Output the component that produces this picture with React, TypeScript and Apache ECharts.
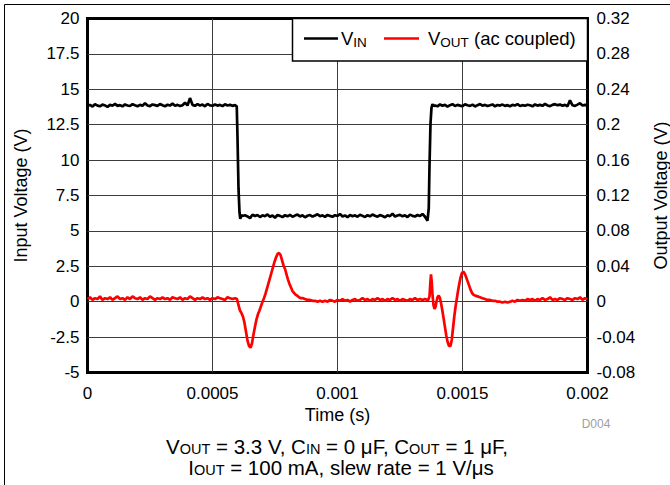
import React, { useEffect, useRef } from "react";
import * as echarts from "echarts";

// ---------- DATA (time in microseconds, voltages in volts) ----------
const vinHigh1T = [0,10,20,30,40,50,60,70,80,90,100,110,120,130,140,150,160,170,180,190,200,210,220,230,240,250,260,270,280,290,300,310,320,330,340,350,360,370,380,390,400,410,420,430,440,450,460,470,480,490,500,510,520,530,540,550,560,570,580,590];
const vinHigh1V = [13.82,13.9,13.78,13.95,13.85,13.8,13.92,13.86,13.76,13.9,
  13.84,13.97,13.83,13.88,13.8,13.93,13.86,13.82,13.95,13.87,
  13.8,13.9,13.84,14.02,13.86,13.81,13.93,13.88,13.83,13.96,
  13.87,13.8,13.91,13.85,13.99,13.84,13.9,13.82,13.88,14.05,
  13.86,14.38,13.9,13.83,13.95,13.86,13.92,13.8,13.97,13.87,
  13.84,13.93,13.85,13.9,13.81,13.94,13.86,13.9,13.83,13.88];
const vinFallT = [597,600,604,608,611,615,620];
const vinFallV = [13.8,11.6,8.0,6.3,5.85,6.12,6.05];
const vinLowT = [630,640,650,660,670,680,690,700,710,720,730,740,750,760,770,780,790,800,810,820,830,840,850,860,870,880,890,900,910,920,930,940,950,960,970,980,990,1000,1010,1020,1030,1040,1050,1060,1070,1080,1090,1100,1110,1120,1130,1140,1150,1160,1170,1180,1190,1200,1210,1220,1230,1240,1250,1260,1270,1280,1290,1300,1310,1320,1330,1340,1350,1360];
const vinLowV = [6.1,6.02,5.9,6.14,6.05,6.12,5.98,6.1,6.04,6.16,
  6.0,6.09,5.93,6.12,6.06,5.97,6.11,6.03,6.13,6.0,
  6.08,6.15,6.02,6.1,5.96,6.07,6.12,6.01,6.09,6.18,
  6.04,6.1,5.99,6.13,6.06,6.0,6.11,6.05,6.2,6.02,
  6.09,5.97,6.12,6.04,6.1,6.0,6.14,6.06,5.98,6.11,
  6.03,6.16,6.07,6.0,6.12,6.05,5.96,6.1,6.04,6.22,
  6.01,6.09,6.13,6.03,6.1,5.98,6.15,6.06,6.02,6.12,
  6.05,6.2,6.0,5.72];
const vinRiseT = [1362,1365,1368,1372,1376,1380,1385];
const vinRiseV = [5.75,6.6,9.6,12.6,13.7,13.95,13.82];
const vinHigh2T = [1390,1400,1410,1420,1430,1440,1450,1460,1470,1480,1490,1500,1510,1520,1530,1540,1550,1560,1570,1580,1590,1600,1610,1620,1630,1640,1650,1660,1670,1680,1690,1700,1710,1720,1730,1740,1750,1760,1770,1780,1790,1800,1810,1820,1830,1840,1850,1860,1870,1880,1890,1900,1910,1920,1930,1940,1950,1960,1970,1980,1990,2000];
const vinHigh2V = [13.86,13.8,13.93,13.84,13.9,13.78,13.88,13.95,13.82,13.9,
  13.85,13.8,13.94,13.87,13.83,13.91,13.79,13.88,13.96,13.84,
  13.9,13.82,13.87,13.93,13.8,13.89,13.85,13.92,13.83,13.88,
  13.8,13.9,13.86,13.95,13.82,13.88,13.84,13.91,13.87,13.8,
  13.93,13.85,13.9,13.83,13.97,13.86,13.81,13.9,13.95,13.88,
  13.92,13.84,13.9,13.8,14.22,13.87,13.83,13.92,14.02,13.86,
  13.9,13.85];

const voutBase1T = [0,10,20,30,40,50,60,70,80,90,100,110,120,130,140,150,160,170,180,190,200,210,220,230,240,250,260,270,280,290,300,310,320,330,340,350,360,370,380,390,400,410,420,430,440,450,460,470,480,490,500,510,520,530,540,550,560,570,580,590];
const voutBase1V = [0.003,0.005,0.002,0.004,0.003,0.006,0.002,0.004,0.003,0.005,
  0.002,0.004,0.006,0.003,0.004,0.002,0.005,0.003,0.006,0.004,
  0.003,0.005,0.002,0.004,0.003,0.006,0.004,0.002,0.004,0.003,
  0.005,0.003,0.004,0.002,0.005,0.004,0.003,0.005,0.002,0.004,
  0.003,0.006,0.004,0.002,0.004,0.003,0.005,0.003,0.004,0.002,
  0.004,0.003,0.005,0.004,0.003,0.002,0.005,0.004,0.003,0.004];
const voutTrans1T = [598,604,610,616,622,628,634,640,646,652,658,664,670,676,682,688,694,700,706,712,718,724,730,736,742,748,754,760,766,772,778,784,790,796,802,808,814,820,826,832,838,846,854,862,870,880,890,900,910,920,930,940];
const voutTrans1V = [0.003,-0.004,-0.01,-0.013,-0.017,-0.024,-0.034,-0.044,-0.05,-0.052,-0.047,-0.037,-0.028,-0.02,-0.014,-0.01,-0.005,0.0,0.004,0.009,0.015,0.021,0.027,0.033,0.039,0.045,0.05,0.054,0.055,0.053,0.047,0.041,0.037,0.031,0.025,0.02,0.016,0.012,0.01,0.008,0.007,0.005,0.004,0.004,0.003,0.002,0.002,0.001,0.001,0.0,0.001,0.0];
const voutBase2T = [950,960,970,980,990,1000,1010,1020,1030,1040,1050,1060,1070,1080,1090,1100,1110,1120,1130,1140,1150,1160,1170,1180,1190,1200,1210,1220,1230,1240,1250,1260,1270,1280,1290,1300,1310,1320,1330,1340,1350,1360];
const voutBase2V = [0.001,0.0,0.002,0.001,0.0,0.002,0.001,0.003,0.001,0.002,
  0.0,0.002,0.003,0.001,0.002,0.004,0.002,0.003,0.001,0.003,
  0.002,0.004,0.002,0.003,0.001,0.003,0.002,0.004,0.002,0.003,
  0.001,0.003,0.002,0.001,0.003,0.002,0.004,0.002,0.003,0.002,
  0.003,0.002];
const voutTrans2T = [1363,1368,1371,1374,1377,1380,1384,1388,1392,1396,1400,1405,1410,1415,1420,1425,1430,1435,1440,1446,1452,1457,1462,1467,1472,1477,1482,1487,1492,1497,1503,1508,1513,1518,1523,1528,1533,1538,1543,1550,1560,1570,1580,1590,1600,1610,1620,1630,1640,1650,1660,1670,1680];
const voutTrans2V = [0.002,0.006,0.02,0.031,0.022,0.008,-0.004,-0.008,-0.006,0.0,0.005,0.007,0.004,-0.003,-0.011,-0.02,-0.029,-0.038,-0.045,-0.05,-0.05,-0.043,-0.03,-0.017,-0.006,0.003,0.012,0.02,0.027,0.032,0.034,0.032,0.029,0.025,0.021,0.017,0.013,0.01,0.008,0.007,0.006,0.005,0.004,0.003,0.002,0.002,0.001,0.001,0.0,0.0,-0.001,0.0,-0.001];
const voutBase3T = [1690,1700,1710,1720,1730,1740,1750,1760,1770,1780,1790,1800,1810,1820,1830,1840,1850,1860,1870,1880,1890,1900,1910,1920,1930,1940,1950,1960,1970,1980,1990,2000];
const voutBase3V = [0.0,0.001,0.0,0.002,0.001,0.002,0.001,0.003,0.002,0.003,
  0.001,0.003,0.002,0.004,0.002,0.003,0.005,0.002,0.003,0.002,
  0.004,0.003,0.002,0.004,0.003,0.002,0.004,0.003,0.005,0.002,
  0.004,0.003];

const FONT = "'Liberation Sans', Arial, Helvetica, sans-serif";

function pairs(ts: number[][], vs: number[][]) {
  const out: number[][] = [];
  ts.forEach((t, i) => t.forEach((x, j) => out.push([x / 1e6, vs[i][j]])));
  return out;
}

const fmt = (v: number) => String(+v.toFixed(6));

export default function App() {
  const ref = useRef<HTMLDivElement>(null);
  useEffect(() => {
    if (!ref.current) return;
    const chart = echarts.init(ref.current, null, { renderer: "svg" });
    const vin = pairs([vinHigh1T, vinFallT, vinLowT, vinRiseT, vinHigh2T], [vinHigh1V, vinFallV, vinLowV, vinRiseV, vinHigh2V]);
    const vout = pairs([voutBase1T, voutTrans1T, voutBase2T, voutTrans2T, voutBase3T], [voutBase1V, voutTrans1V, voutBase2V, voutTrans2V, voutBase3V]);
    const label = { color: "#000", fontSize: 17, fontFamily: FONT };
    const nameStyle = { color: "#000", fontSize: 18, fontFamily: FONT };
    const grid = { color: "#3c3c3c", width: 1 };
    const ln = { fill: "#000", fontSize: 18.5, fontFamily: FONT, lineHeight: 22, verticalAlign: "middle" };
    const ls = { fill: "#000", fontSize: 13.5, fontFamily: FONT, lineHeight: 11, verticalAlign: "bottom" };
    const cn = { fill: "#000", fontSize: 20.5, fontFamily: FONT, lineHeight: 20, verticalAlign: "middle" };
    const cs = { fill: "#000", fontSize: 14.5, fontFamily: FONT, lineHeight: 10, verticalAlign: "bottom" };
    chart.setOption({
      animation: false,
      grid: { left: 87.5, right: 82.5, top: 18.5, bottom: 112.5, show: true, borderColor: "#000", borderWidth: 3, backgroundColor: "transparent", containLabel: false, outerBoundsMode: "none" },
      xAxis: {
        type: "value", min: 0, max: 0.002, interval: 0.0005,
        axisLine: { show: false }, axisTick: { show: false },
        splitLine: { show: true, showMinLine: false, showMaxLine: false, lineStyle: grid },
        axisLabel: { ...label, margin: 12, formatter: fmt },
        name: "Time (s)", nameLocation: "middle", nameGap: 31,
        nameTextStyle: { ...nameStyle },
      },
      yAxis: [
        {
          type: "value", min: -5, max: 20, interval: 2.5, position: "left",
          axisLine: { show: false }, axisTick: { show: false },
          splitLine: { show: true, showMinLine: false, showMaxLine: false, lineStyle: grid },
          axisLabel: { ...label, margin: 8, formatter: fmt },
          name: "Input Voltage (V)", nameLocation: "middle", nameGap: 58, nameRotate: 90,
          nameTextStyle: { ...nameStyle },
        },
        {
          type: "value", min: -0.08, max: 0.32, interval: 0.04, position: "right",
          axisLine: { show: false }, axisTick: { show: false },
          splitLine: { show: false },
          axisLabel: { ...label, margin: 9, formatter: fmt },
          name: "Output Voltage (V)", nameLocation: "middle", nameGap: 64, nameRotate: 90,
          nameTextStyle: { ...nameStyle },
        },
      ],
      series: [
        { type: "line", name: "VIN", yAxisIndex: 0, data: vin, symbol: "none", showSymbol: false, lineStyle: { color: "#000", width: 2.7 }, z: 3 },
        { type: "line", name: "VOUT", yAxisIndex: 1, data: vout, symbol: "none", showSymbol: false, lineStyle: { color: "#ff0000", width: 2.7 }, z: 4 },
      ],
      graphic: [
        { type: "rect", silent: true, z: 0, shape: { x: 4.5, y: 4.5, width: 700, height: 600 }, style: { fill: "none", stroke: "#000", lineWidth: 1 } },
        { type: "rect", silent: true, z: 10, shape: { x: 292.5, y: 18.5, width: 295, height: 42.5 }, style: { fill: "#fff", stroke: "#000", lineWidth: 1.5 } },
        { type: "line", silent: true, z: 11, shape: { x1: 304, y1: 38.5, x2: 338, y2: 38.5 }, style: { stroke: "#000", lineWidth: 2.5 } },
        { type: "text", silent: true, z: 11, x: 341, y: 38.5, style: { text: "{n|V}{s|IN}", rich: { n: ln, s: ls }, align: "left", verticalAlign: "middle" } },
        { type: "line", silent: true, z: 11, shape: { x1: 384, y1: 38.5, x2: 419, y2: 38.5 }, style: { stroke: "#ff0000", lineWidth: 2.5 } },
        { type: "text", silent: true, z: 11, x: 428, y: 38.5, style: { text: "{n|V}{s|OUT}{n| (ac coupled)}", rich: { n: ln, s: ls }, align: "left", verticalAlign: "middle" } },
        { type: "text", silent: true, z: 11, x: 596, y: 424, style: { text: "D004", fill: "#a0a0a0", fontSize: 12, fontFamily: FONT, align: "center", verticalAlign: "middle" } },
        { type: "text", silent: true, z: 11, x: 337, y: 446, style: { text: "{n|V}{s|OUT}{n| = 3.3 V, C}{s|IN}{n| = 0 μF, C}{s|OUT}{n| = 1 μF,}", rich: { n: cn, s: cs }, align: "center", verticalAlign: "middle" } },
        { type: "text", silent: true, z: 11, x: 341, y: 467, style: { text: "{n|I}{s|OUT}{n| = 100 mA, slew rate = 1 V/μs}", rich: { n: cn, s: cs }, align: "center", verticalAlign: "middle" } },
      ],
    });
    return () => chart.dispose();
  }, []);
  return <div ref={ref} style={{ position: "fixed", left: 0, top: 0, width: 670, height: 485, background: "#fff" }} />;
}
